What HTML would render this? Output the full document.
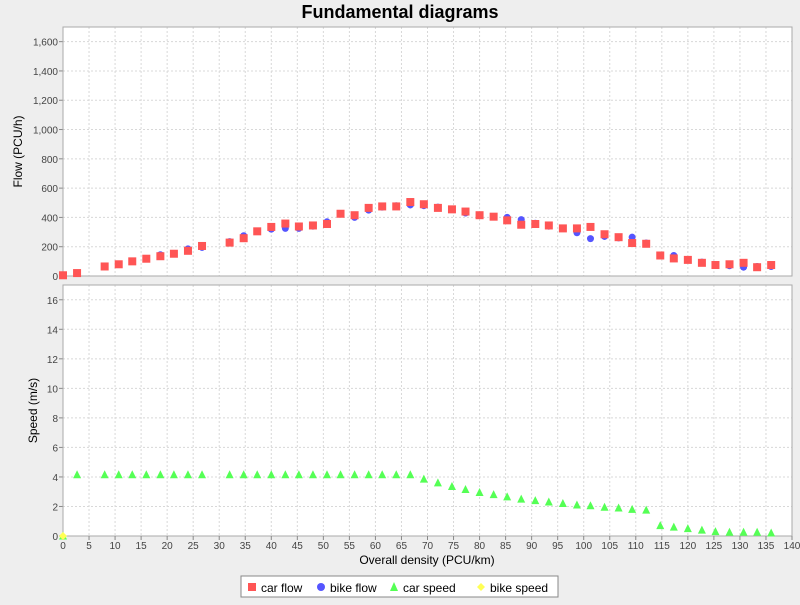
<!DOCTYPE html>
<html><head><meta charset="utf-8"><style>
body{margin:0;background:#eeeeee;font-family:"Liberation Sans",sans-serif;}
svg text{font-family:"Liberation Sans",sans-serif;}
</style></head><body>
<svg id="c" width="800" height="600">
<rect width="800" height="600" fill="#eeeeee"/>
<text x="400" y="18" text-anchor="middle" font-size="18" font-weight="bold">Fundamental diagrams</text>
<g id="g"></g>
</svg>
<script>
const density=[0,2.7,8,10.7,13.3,16,18.7,21.3,24,26.7,32,34.7,37.3,40,42.7,45.3,48,50.7,53.3,56,58.7,61.3,64,66.7,69.3,72,74.7,77.3,80,82.7,85.3,88,90.7,93.3,96,98.7,101.3,104,106.7,109.3,112,114.7,117.3,120,122.7,125.3,128,130.7,133.3,136];
const carFlow=[5,20,65,80,100,118,135,152,172,205,228,258,305,335,358,338,345,355,425,415,465,475,475,505,490,465,455,440,415,405,380,350,355,345,325,325,335,285,265,225,220,140,120,110,90,75,80,90,60,75];
const bikeFlow=[5,20,65,80,100,118,145,152,185,195,235,275,305,320,325,325,340,370,425,400,450,470,480,485,480,470,455,430,415,405,400,385,360,340,325,295,255,270,260,265,225,140,140,110,95,75,70,60,65,65];
const carSpeed=[0,4.15,4.15,4.15,4.15,4.15,4.15,4.15,4.15,4.15,4.15,4.15,4.15,4.15,4.15,4.15,4.15,4.15,4.15,4.15,4.15,4.15,4.15,4.15,3.85,3.6,3.35,3.15,2.95,2.8,2.65,2.5,2.4,2.3,2.2,2.1,2.05,1.95,1.9,1.8,1.75,0.7,0.6,0.5,0.4,0.3,0.25,0.25,0.25,0.2];
const bikeSpeedX=[0];
const bikeSpeed=[0];
const xTicks=[0,5,10,15,20,25,30,35,40,45,50,55,60,65,70,75,80,85,90,95,100,105,110,115,120,125,130,135,140];
const flowTicks=[0,200,400,600,800,1000,1200,1400,1600];
const speedTicks=[0,2,4,6,8,10,12,14,16];
const NS="http://www.w3.org/2000/svg",g=document.getElementById('g');
const L=63,R=792;
const sx=v=>L+v/140*(R-L);
const fy=v=>276-v/1700*249;
const vy=v=>536-v/17*251;
function el(t,a,p){const e=document.createElementNS(NS,t);for(const k in a)e.setAttribute(k,a[k]);(p||g).appendChild(e);return e;}
function panel(top,bot,ticks,ys,label,name,lx){
  const bg=el('rect',{x:L,y:top,width:R-L,height:bot-top,fill:'#fff'});
  
  
  xTicks.forEach(t=>{el('line',{x1:sx(t),x2:sx(t),y1:top,y2:bot,stroke:'#d8d8d8','stroke-dasharray':'2,2'});});
  ticks.forEach(t=>{el('line',{x1:L,x2:R,y1:ys(t),y2:ys(t),stroke:'#d8d8d8','stroke-dasharray':'2,2'});
    el('line',{x1:L-4,x2:L,y1:ys(t),y2:ys(t),stroke:'#888'});
    const tx=el('text',{x:L-5,y:ys(t)+4,'text-anchor':'end','font-size':10,fill:'#444'});tx.textContent=t.toLocaleString('en-US');
    
    });
  el('rect',{x:L,y:top,width:R-L,height:bot-top,fill:'none',stroke:'#aaa'});
  const yl=el('text',{x:0,y:0,'text-anchor':'middle','font-size':12,transform:`translate(${lx},${(top+bot)/2}) rotate(-90)`});yl.textContent=label;
  
  
}
panel(27,276,flowTicks,fy,'Flow (PCU/h)','flow',22);
panel(285,536,speedTicks,vy,'Speed (m/s)','speed',37);
xTicks.forEach(t=>{el('line',{x1:sx(t),x2:sx(t),y1:536,y2:540,stroke:'#888'});
  const tx=el('text',{x:sx(t),y:549,'text-anchor':'middle','font-size':10,fill:'#444'});tx.textContent=t;
  
  });
const xl=el('text',{x:427,y:564,'text-anchor':'middle','font-size':12});xl.textContent='Overall density (PCU/km)';


density.forEach((d,i)=>{const c=el('circle',{cx:sx(d),cy:fy(bikeFlow[i]),r:3.5,fill:'#5555ff'});
  
  });
density.forEach((d,i)=>{const r=el('rect',{x:sx(d)-4,y:fy(carFlow[i])-4,width:8,height:8,fill:'#ff5555'});
  
  });
function tri(x,y,c){return el('polygon',{points:`${x},${y-4.5} ${x-4},${y+3.5} ${x+4},${y+3.5}`,fill:c});}
density.forEach((d,i)=>{const t=tri(sx(d),vy(carSpeed[i]),'#55ff55');
  
  });
bikeSpeedX.forEach((d,i)=>{const x=sx(d),y=vy(bikeSpeed[i]);const p=el('polygon',{points:`${x},${y-4} ${x+4},${y} ${x},${y+4} ${x-4},${y}`,fill:'#ffff55'});
  
  });
const lg=el('g',{});


el('rect',{x:241,y:576,width:317,height:21,fill:'#fff',stroke:'#888'},lg);
el('rect',{x:248,y:583,width:8,height:8,fill:'#ff5555'},lg);
el('circle',{cx:321,cy:587,r:4,fill:'#5555ff'},lg);
el('polygon',{points:'394,582 390,591 398,591',fill:'#55ff55'},lg);
el('polygon',{points:'481,583 485,587 481,591 477,587',fill:'#ffff55'},lg);
[['car flow',261],['bike flow',330],['car speed',403],['bike speed',490]].forEach(([t,x])=>{
  const tx=el('text',{x:x,y:592,'font-size':12},lg);tx.textContent=t;
  
  });
</script>
</body></html>
